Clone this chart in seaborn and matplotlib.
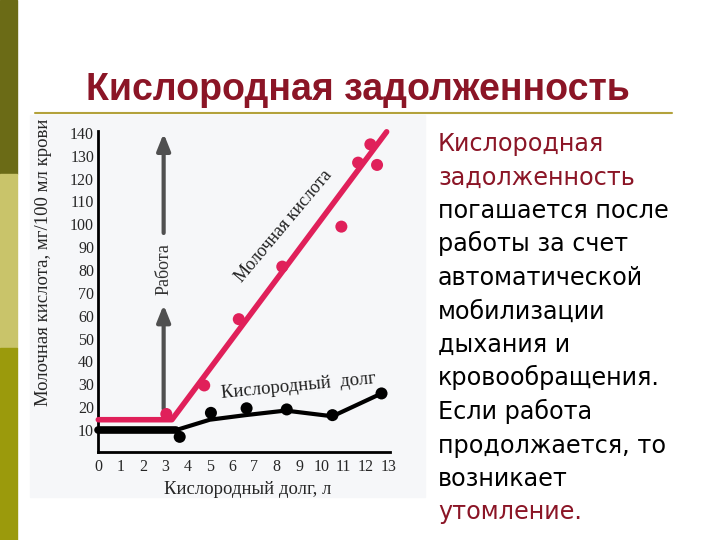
import matplotlib
matplotlib.use("Agg")
import matplotlib.pyplot as plt
import seaborn as sns
from matplotlib.patches import Rectangle
from matplotlib.lines import Line2D

# --- data -----------------------------------------------------------------
lactate_line_x = [0.0, 3.3, 12.93]
lactate_line_y = [14.5, 14.5, 140.5]
lactate_pts_x = [3.05, 4.75, 6.3, 8.25, 10.9, 11.65, 12.2, 12.5]
lactate_pts_y = [17.0, 29.5, 58.5, 81.5, 99.0, 127.0, 135.0, 126.0]

debt_line_x = [0.0, 3.5, 5.0, 6.6, 8.4, 10.5, 12.7]
debt_line_y = [10.0, 10.0, 14.5, 16.5, 18.5, 16.0, 26.0]
debt_pts_x = [3.65, 5.05, 6.65, 8.45, 10.5, 12.7]
debt_pts_y = [7.0, 17.5, 19.5, 19.0, 16.5, 26.0]

x_ticks = list(range(0, 14))
y_ticks = list(range(10, 150, 10))

title = "Кислородная задолженность"
body_lines = [
    ("Кислородная", "#8b1526"),
    ("задолженность", "#8b1526"),
    ("погашается после", "black"),
    ("работы за счет", "black"),
    ("автоматической", "black"),
    ("мобилизации", "black"),
    ("дыхания и", "black"),
    ("кровообращения.", "black"),
    ("Если работа", "black"),
    ("продолжается, то", "black"),
    ("возникает", "black"),
    ("утомление.", "#8b1526"),
]

RED = "#e0205a"
SERIF = ["Liberation Serif", "DejaVu Serif"]

sns.set_style("white")
plt.rcParams["font.family"] = ["DejaVu Sans"]

W, H = 720, 540
fig = plt.figure(figsize=(7.2, 5.4), dpi=100)


def fx(px):
    return px / W


def fy(py):
    return 1 - py / H


# slide decoration: left stripes, title, rule
for y0, y1, c in [(0, 174, "#6b6b16"), (174, 348, "#c9c46a"), (348, 540, "#9b9a0c")]:
    fig.patches.append(Rectangle((0, fy(y1)), fx(17), (y1 - y0) / H,
                                 transform=fig.transFigure, color=c, zorder=-5))
fig.patches.append(Rectangle((fx(30), fy(497)), fx(395), 382 / H,
                             transform=fig.transFigure, color="#f6f7f9", zorder=-5))
fig.lines.append(Line2D([fx(35), fx(672)], [fy(113), fy(113)],
                        transform=fig.transFigure, color="#b3a23c", lw=1.5))
fig.text(fx(358), fy(100), title, ha="center", va="baseline", fontsize=27,
         fontweight="bold", color="#8b1526", family=["Liberation Sans", "DejaVu Sans"])

for i, (line, col) in enumerate(body_lines):
    fig.text(fx(438), fy(151 + 33.5 * i), line, ha="left", va="baseline",
             fontsize=17.2, color=col, family=["DejaVu Sans"])

# --- chart -----------------------------------------------------------------
px_per_x = 22.3
px_per_y = 2.285
y_lo, y_hi = 0.5, 141.0
ax = fig.add_axes([fx(98.3), fy(451.7), fx(13.1 * px_per_x),
                   (y_hi - y_lo) * px_per_y / H])
ax.set_facecolor("none")
ax.set_xlim(0, 13.1)
ax.set_ylim(y_lo, y_hi)

sns.lineplot(x=lactate_line_x, y=lactate_line_y, ax=ax, color=RED, lw=4,
             estimator=None, sort=False, clip_on=False, zorder=3)
sns.scatterplot(x=lactate_pts_x, y=lactate_pts_y, ax=ax, color=RED, s=75,
                edgecolor="none", clip_on=False, zorder=4)
sns.lineplot(x=debt_line_x, y=debt_line_y, ax=ax, color="black", lw=3,
             estimator=None, sort=False, clip_on=False, zorder=3)
sns.lineplot(x=debt_line_x[:2], y=debt_line_y[:2], ax=ax, color="black", lw=5.5,
             estimator=None, sort=False, clip_on=False, zorder=3)
sns.scatterplot(x=debt_pts_x, y=debt_pts_y, ax=ax, color="black", s=75,
                edgecolor="none", clip_on=False, zorder=4)

# "Работа" arrows
arrow = dict(arrowstyle="-|>,head_length=1.0,head_width=0.4", color="#505050", lw=3)
ax.annotate("", xy=(2.93, 66), xytext=(2.93, 18), arrowprops=arrow)
ax.annotate("", xy=(2.93, 141), xytext=(2.93, 95), arrowprops=arrow)
ax.text(2.93, 80.5, "Работа", rotation=90, ha="center", va="center",
        fontsize=13, color="#333333", family=SERIF)

ax.text(8.3, 99, "Молочная кислота", rotation=50, ha="center", va="center",
        fontsize=13, color="#222222", family=SERIF)
ax.text(9.0, 29.3, "Кислородный  долг", rotation=5.5, ha="center", va="center",
        fontsize=13.5, color="#222222", family=SERIF)

sns.despine(ax=ax)
for s in ("left", "bottom"):
    ax.spines[s].set_linewidth(2)
    ax.spines[s].set_color("black")
ax.set_xticks(x_ticks)
ax.set_yticks(y_ticks)
ax.tick_params(axis="x", direction="in", length=9, width=1.5, pad=5)
ax.tick_params(axis="y", direction="in", length=7, width=1.5, pad=3)
for lab in ax.get_xticklabels() + ax.get_yticklabels():
    lab.set_family(SERIF)
    lab.set_fontsize(11.5)
ax.set_xlabel("Кислородный долг, л", family=SERIF, fontsize=13.5)
ax.xaxis.set_label_coords(0.51, -0.092)
ax.set_ylabel("Молочная кислота, мг/100 мл крови", family=SERIF, fontsize=13.5)
ax.yaxis.set_label_coords(-0.16, 0.59)

fig.savefig("out.png", dpi=100)
